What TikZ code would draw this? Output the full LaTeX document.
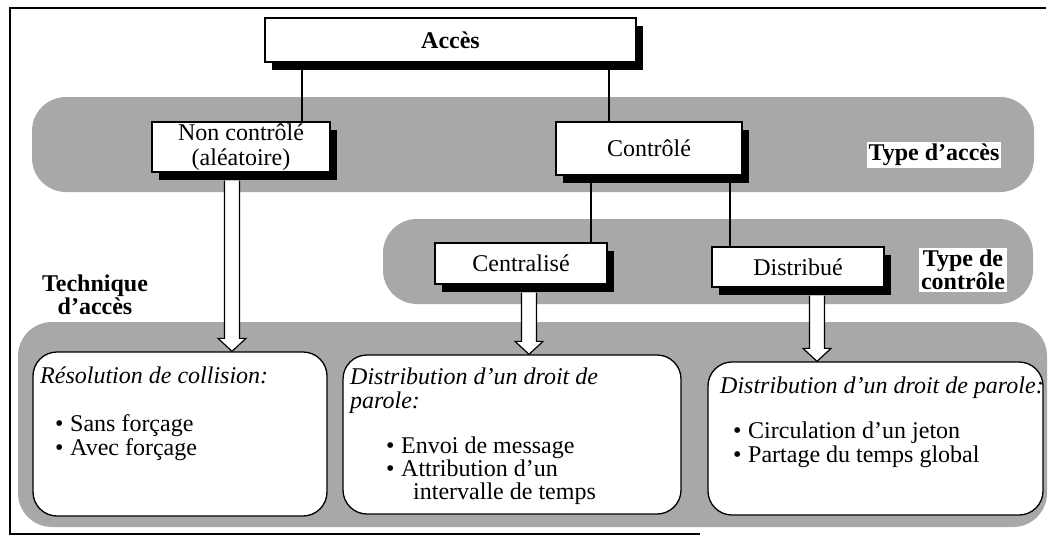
\documentclass[tikz,border=0pt]{standalone}
\usepackage{fontspec}
\setmainfont{Liberation Serif}
\usetikzlibrary{calc,shadows}
\definecolor{bandgray}{RGB}{168,168,168}
\newcommand\harrow[2]{\draw[harr] let \p1=(#1), \p2=(#1 |- #2) in
  (\x1-7.5pt,\y1) -- (\x1-7.5pt,\y2+13pt) -- (\x1-14pt,\y2+13pt) -- (\x1,\y2)
  -- (\x1+14pt,\y2+13pt) -- (\x1+7.5pt,\y2+13pt) -- (\x1+7.5pt,\y1);}
\newcommand\bul[1]{\makebox[15pt][l]{\textbullet}#1}
\begin{document}
\begin{tikzpicture}[x=1pt,y=-1pt,
  every node/.style={font=\fontsize{24}{25}\selectfont},
  sbox/.style={draw, line width=1.2pt, fill=white, inner sep=0pt, align=center,
     drop shadow={shadow xshift=7pt, shadow yshift=-8pt, opacity=1, fill=black}},
  rbox/.style={draw, line width=1.3pt, fill=white, rounded corners=24pt, inner sep=0pt},
  band/.style={fill=bandgray, rounded corners=34pt},
  conn/.style={line width=1.6pt},
  harr/.style={draw, line width=1.2pt, fill=white, line join=miter},
  lbl/.style={font=\fontsize{24}{23}\selectfont\bfseries, align=center, inner sep=2pt},
  txt/.style={inner sep=0pt, anchor=base west}
]
\useasboundingbox (0,0) rectangle (1048,538);
\fill[white] (0,0) rectangle (1048,538);
% frame
\draw[line width=1.2pt] (1046,8) -- (10,8) -- (10,534) -- (700,534);
% bands
\fill[band] (32,97) rectangle (1034,192);
\fill[band] (383,219) rectangle (1033,304);
\fill[band] (18,322) rectangle (1047,527);
% labels
\node[lbl, fill=white] (ta) at (934,155) {Type d'accès};
\node[lbl, fill=white] (tc) at (963,270) {Type de\\contrôle};
\node[lbl] (tt) at (95,295) {Technique\\d'accès};
% boxes
\node[sbox, minimum width=371pt, minimum height=44pt] (acces) at (450.5,40) {\bfseries Accès};
\node[sbox, minimum width=178pt, minimum height=50pt] (nc) at (241,147) {Non contrôlé\\(aléatoire)};
\node[sbox, minimum width=186pt, minimum height=53pt] (ctl) at (649,148.5) {Contrôlé};
\node[sbox, minimum width=172pt, minimum height=41pt] (cen) at (521,263.5) {Centralisé};
\node[sbox, minimum width=172pt, minimum height=40pt] (dis) at (798,267) {Distribué};
% connectors
\coordinate (l1) at ([xshift=61pt]nc.north);
\coordinate (l2) at ([xshift=-40pt]ctl.north);
\coordinate (l3) at ([xshift=70pt]cen.north);
\coordinate (l4) at ([xshift=-68pt]dis.north);
\draw[conn] (l1) -- (l1 |- acces.south);
\draw[conn] (l2) -- (l2 |- acces.south);
\draw[conn] (l3) -- (l3 |- ctl.south);
\draw[conn] (l4) -- (l4 |- ctl.south);
% bottom boxes
\node[rbox, minimum width=294pt, minimum height=164pt] (b1) at (180,434) {};
\node[rbox, minimum width=338pt, minimum height=159pt] (b2) at (512,434.5) {};
\node[rbox, minimum width=335pt, minimum height=153pt] (b3) at (875.5,438.5) {};
% hollow arrows
\coordinate (s1) at ($(nc.south)+(-9,8)$);
\coordinate (s2) at ($(cen.south)+(8,8)$);
\coordinate (s3) at ($(dis.south)+(19,8)$);
\harrow{s1}{b1.north}
\harrow{s2}{b2.north}
\harrow{s3}{b3.north}
% texts box 1
\node[txt] (t11) at (40,383) {\itshape Résolution de collision:};
\node[txt] (t12) at (55,431) {\bul{Sans forçage}};
\node[txt] (t13) at (55,455) {\bul{Avec forçage}};
% texts box 2
\node[txt] (t21) at (350,384) {\itshape Distribution d'un droit de};
\node[txt] (t22) at (350,408) {\itshape parole:};
\node[txt] (t23) at (386,453) {\bul{Envoi de message}};
\node[txt] (t24) at (386,476) {\bul{Attribution d'un}};
\node[txt] (t25) at (413,499) {intervalle de temps};
% texts box 3
\node[txt] (t31) at (720,393) {\itshape Distribution d'un droit de parole:};
\node[txt] (t32) at (733,438) {\bul{Circulation d'un jeton}};
\node[txt] (t33) at (733,462) {\bul{Partage du temps global}};
\end{tikzpicture}
\end{document}
